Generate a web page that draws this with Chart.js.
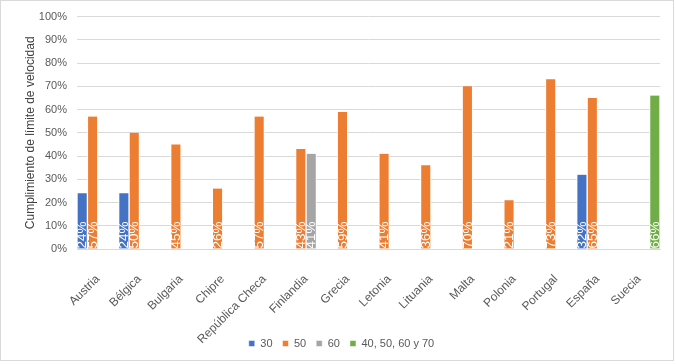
<!DOCTYPE html>
<html>
<head>
<meta charset="utf-8">
<script src="https://cdn.jsdelivr.net/npm/chart.js@4.4.1/dist/chart.umd.min.js"></script>
<style>
    html, body { margin: 0; padding: 0; background: #fff; }
    .wrap { position: relative; width: 676px; height: 364px; }
    .frame { position: absolute; left: 0; top: 0; width: 672px; height: 359px; border: 1px solid #d9d9d9; pointer-events: none; }
</style>
</head>
<body>
<div class="wrap">
    <canvas id="chartSpeed" width="676" height="364"></canvas>
    <div class="frame"></div>
</div>
<script>
const countries = ['Austria', 'Bélgica', 'Bulgaria', 'Chipre', 'República Checa', 'Finlandia', 'Grecia',
    'Letonia', 'Lituania', 'Malta', 'Polonia', 'Portugal', 'España', 'Suecia'];

const limit30 = [24, 24, null, null, null, null, null, null, null, null, null, null, 32, null];
const limit50 = [57, 50, 45, 26, 57, 43, 59, 41, 36, 70, 21, 73, 65, null];
const limit60 = [null, null, null, null, null, 41, null, null, null, null, null, null, null, null];
const limitMixed = [null, null, null, null, null, null, null, null, null, null, null, null, null, 66];

const yTicks = [0, 10, 20, 30, 40, 50, 60, 70, 80, 90, 100];

document.addEventListener('DOMContentLoaded', function () {
    const font = "'Liberation Sans', Arial, sans-serif";
    const c = {
        blue: '#4472C4',
        orange: '#ED7D31',
        gray: '#A5A5A5',
        green: '#70AD47',
        text: '#595959',
        grid: '#d9d9d9'
    };

    // white percentage labels written upward from the bar base
    const barLabels = {
        id: 'barLabels',
        afterDatasetsDraw(chart) {
            const ctx = chart.ctx;
            ctx.save();
            ctx.fillStyle = '#fff';
            ctx.font = '13.5px ' + font;
            ctx.textAlign = 'left';
            ctx.textBaseline = 'middle';
            chart.data.datasets.forEach(function (ds, i) {
                const meta = chart.getDatasetMeta(i);
                meta.data.forEach(function (bar, j) {
                    const v = ds.data[j];
                    if (v === null || v === undefined) return;
                    ctx.save();
                    ctx.translate(bar.x + 0.5, bar.base);
                    ctx.rotate(-Math.PI / 2);
                    ctx.fillText(v + '%', 0, 0);
                    ctx.restore();
                });
            });
            ctx.restore();
        }
    };

    // long rotated category names run past the x scale box; don't clip them
    const noLabelClip = {
        id: 'noLabelClip',
        beforeDraw(chart) {
            chart.scales.x._computeLabelArea = function () { return undefined; };
        }
    };

    function ds(label, data, color) {
        return {
            label: label,
            data: data,
            backgroundColor: color,
            borderColor: '#fff',
            borderWidth: { left: 1, right: 1, top: 0, bottom: 0 },
            borderSkipped: false,
            barPercentage: 1,
            categoryPercentage: 1
        };
    }

    new Chart(document.getElementById('chartSpeed'), {
        type: 'bar',
        data: {
            labels: countries,
            datasets: [
                ds('30', limit30, c.blue),
                ds('50', limit50, c.orange),
                ds('60', limit60, c.gray),
                ds('40, 50, 60 y 70', limitMixed, c.green)
            ]
        },
        options: {
            responsive: false,
            animation: false,
            layout: { padding: { left: 23, right: 16, top: 12, bottom: 5 } },
            plugins: {
                legend: {
                    position: 'bottom',
                    labels: {
                        boxWidth: 6,
                        boxHeight: 6,
                        padding: 10,
                        color: c.text,
                        font: { size: 11, family: font }
                    }
                },
                tooltip: { enabled: false }
            },
            scales: {
                y: {
                    min: 0,
                    max: 100,
                    afterBuildTicks: function (scale) {
                        scale.ticks = yTicks.map(v => ({ value: v }));
                    },
                    afterFit: function (scale) { scale.width = 54; },
                    grid: { color: c.grid, lineWidth: 1, drawTicks: false },
                    border: { display: false },
                    ticks: {
                        padding: 10,
                        color: c.text,
                        font: { size: 11, family: font },
                        callback: v => v + '%'
                    },
                    title: {
                        display: true,
                        text: 'Cumplimiento de límite de velocidad',
                        color: '#404040',
                        padding: 0,
                        font: { size: 12, family: font }
                    }
                },
                x: {
                    afterFit: function (scale) { scale.height = 79; },
                    grid: { display: false },
                    border: { color: c.grid },
                    ticks: {
                        minRotation: 45,
                        maxRotation: 45,
                        padding: 15,
                        color: c.text,
                        font: { size: 12, family: font }
                    }
                }
            }
        },
        plugins: [barLabels, noLabelClip]
    });
});
</script>
</body>
</html>
